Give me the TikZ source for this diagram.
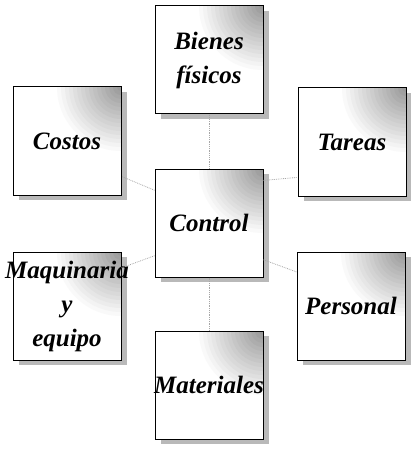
\documentclass[tikz,border=0pt]{standalone}
\usepackage{fontspec}
\setmainfont{Liberation Serif}
\usetikzlibrary{shadows}

\begin{document}
\begin{tikzpicture}[
    x=1pt, y=-1pt,
    area/.style={draw, line width=1pt, fill=white, minimum width=108pt, minimum height=108pt,
        inner sep=0pt, align=center, font=\bfseries\itshape\fontsize{25}{34}\selectfont,
        drop shadow={shadow xshift=6pt, shadow yshift=-5pt, fill=gray!55, opacity=1},
        path picture={
            \foreach \r in {64,60,...,4} {
                \pgfmathsetmacro\tono{42*(1-\r/68)}
                \fill[black!\tono!white] (path picture bounding box.north east) circle (\r pt);
            }}},
    link/.style={densely dotted, gray!70, line width=0.8pt},
]
    \useasboundingbox (0,0) rectangle (411,449);

    \node[area] (control) at (209,223) {Control};
    \node[area] (bienes) at (209,60) {Bienes\\físicos};
    \node[area] (costos) at (67,141) {Costos};
    \node[area] (tareas) at (352,142) {Tareas};
    \node[area, inner xsep=-10pt] (maquinaria) at (67,306) {Maquinaria\\y\\equipo};
    \node[area] (personal) at (351,306) {Personal};
    \node[area, inner xsep=-4pt] (materiales) at (209,385) {Materiales};

    % conectores punteados
    \draw[link] (control) -- (bienes);
    \draw[link] (control) -- (materiales);
    \draw[link] (control.149) -- (costos.-33);
    \draw[link] (control.38) -- (tareas.213);
    \draw[link] (control.211) -- (maquinaria.35);
    \draw[link] (control.-34) -- (personal.148);
\end{tikzpicture}
\end{document}
